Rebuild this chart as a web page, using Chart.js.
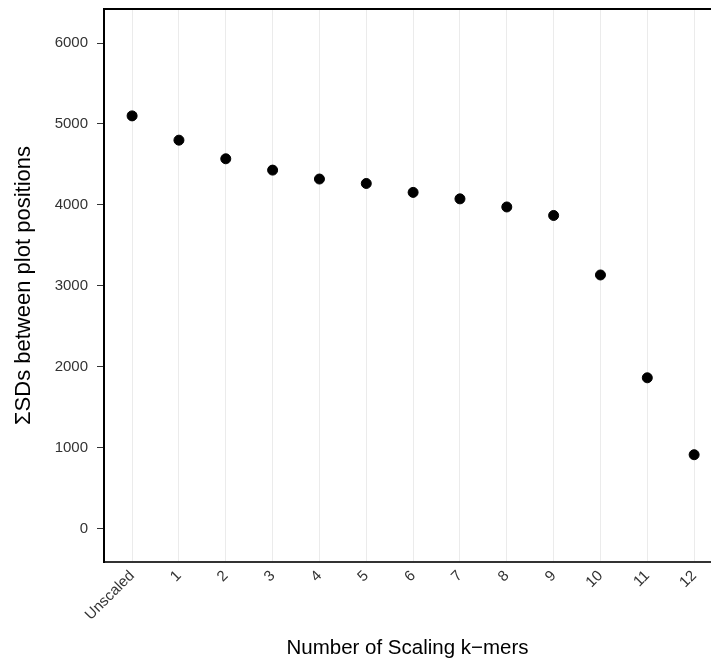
<!DOCTYPE html>
<html>
<head>
<meta charset="utf-8">
<script src="https://cdn.jsdelivr.net/npm/chart.js@4/dist/chart.umd.min.js"></script>
<style>
    html, body { margin: 0; padding: 0; background: #fff; }
    #wrap { width: 711px; height: 664px; }
</style>
</head>
<body>
<div id="wrap"><canvas id="kmerChart" width="711" height="664"></canvas></div>
<script>
// Data
const categories = ['Unscaled', '1', '2', '3', '4', '5', '6', '7', '8', '9', '10', '11', '12'];
const sdSums = [5100, 4800, 4570, 4430, 4320, 4265, 4155, 4075, 3975, 3870, 3135, 1865, 915];
const yTicks = [0, 1000, 2000, 3000, 4000, 5000, 6000];

const FONT = "'Liberation Sans', Arial, Helvetica, sans-serif";

// top panel border
const topBorder = {
    id: 'topBorder',
    afterDraw(chart) {
        const { ctx, chartArea } = chart;
        ctx.save();
        ctx.strokeStyle = '#000';
        ctx.lineWidth = 2;
        ctx.beginPath();
        ctx.moveTo(chartArea.left - 1, chartArea.top);
        ctx.lineTo(chartArea.right, chartArea.top);
        ctx.stroke();
        ctx.restore();
    }
};

document.addEventListener('DOMContentLoaded', () => {
    const ctx = document.getElementById('kmerChart').getContext('2d');
    new Chart(ctx, {
        type: 'scatter',
        data: {
            datasets: [{
                data: sdSums.map((v, i) => ({ x: i, y: v })),
                backgroundColor: '#000',
                borderColor: '#000',
                pointRadius: 5,
                pointHoverRadius: 5
            }]
        },
        options: {
            responsive: false,
            animation: false,
            layout: { autoPadding: false, padding: { top: 9, right: 0, bottom: 0, left: 0 } },
            plugins: {
                legend: { display: false },
                tooltip: { enabled: false }
            },
            scales: {
                x: {
                    type: 'linear',
                    min: -0.6,
                    max: 12.36,
                    afterBuildTicks: (scale) => {
                        scale.ticks = categories.map((c, i) => ({ value: i }));
                    },
                    afterFit: (scale) => {
                        scale.height = 102;
                        scale.paddingLeft = 0;
                        scale.paddingRight = 0;
                    },
                    border: { display: true, color: '#333', width: 2 },
                    grid: {
                        color: '#ebebeb',
                        lineWidth: 1,
                        drawTicks: false
                    },
                    ticks: {
                        minRotation: 45,
                        maxRotation: 45,
                        padding: 5,
                        color: '#333',
                        font: { family: FONT, size: 15 },
                        callback: (v) => categories[v]
                    },
                    title: {
                        display: true,
                        text: 'Number of Scaling k\u2212mers',
                        color: '#000',
                        font: { family: FONT, size: 20.5 },
                        padding: { top: 0, bottom: 3 }
                    }
                },
                y: {
                    min: -410,
                    max: 6420,
                    afterBuildTicks: (scale) => {
                        scale.ticks = yTicks.map(v => ({ value: v }));
                    },
                    afterFit: (scale) => {
                        scale.width = 104;
                        scale.paddingTop = 0;
                        scale.paddingBottom = 0;
                    },
                    border: { display: true, color: '#000', width: 2 },
                    grid: {
                        drawOnChartArea: false,
                        drawTicks: true,
                        tickLength: 7,
                        color: '#333',
                        lineWidth: 1
                    },
                    ticks: {
                        padding: 9,
                        color: '#333',
                        font: { family: FONT, size: 15 },
                        callback: (v) => String(v)
                    },
                    title: {
                        display: true,
                        text: '\u03A3SDs between plot positions',
                        color: '#000',
                        font: { family: FONT, size: 22 },
                        padding: { top: 10.5, bottom: 0 }
                    }
                }
            }
        },
        plugins: [topBorder]
    });
});
</script>
</body>
</html>
